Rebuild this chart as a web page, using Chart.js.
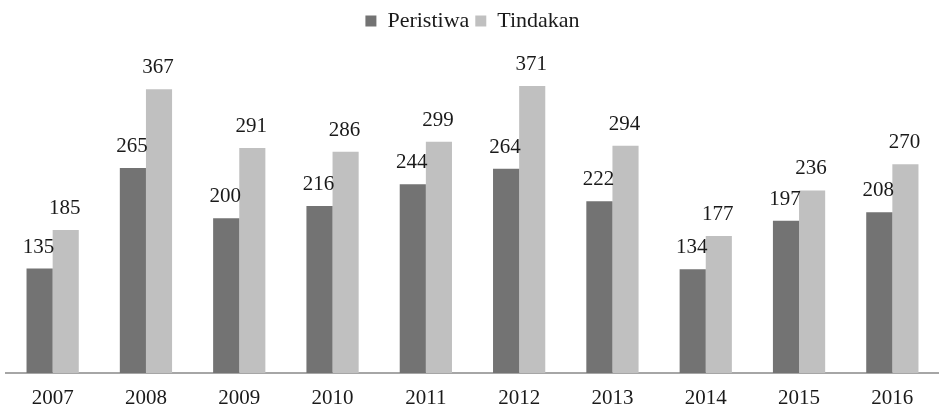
<!DOCTYPE html>
<html>
<head>
<meta charset="utf-8">
<script src="https://cdn.jsdelivr.net/npm/chart.js@4"></script>
<style>
  html, body { margin: 0; padding: 0; background: #fff; }
  #wrap { width: 939px; height: 412px; }
</style>
</head>
<body>
<div id="wrap"><canvas id="grafico" width="939" height="412"></canvas></div>
<script>
// Datos del gráfico
const tahun = ['2007', '2008', '2009', '2010', '2011', '2012', '2013', '2014', '2015', '2016'];
const peristiwa = [135, 265, 200, 216, 244, 264, 222, 134, 197, 208];
const tindakan = [185, 367, 291, 286, 299, 371, 294, 177, 236, 270];

const fuente = "'Liberation Serif', 'DejaVu Serif', serif";

// Etiquetas sobre las barras
const etiquetasBarras = {
    id: 'etiquetasBarras',
    afterDatasetsDraw(chart) {
        const ctx = chart.ctx;
        ctx.save();
        ctx.font = '21px ' + fuente;
        ctx.fillStyle = '#1a1a1a';
        ctx.textAlign = 'center';
        ctx.textBaseline = 'alphabetic';
        chart.data.datasets.forEach((ds, i) => {
            chart.getDatasetMeta(i).data.forEach((bar, j) => {
                ctx.fillText(ds.data[j], bar.x - 1, bar.y - 16);
            });
        });
        ctx.restore();
    }
};

new Chart(document.getElementById('grafico').getContext('2d'), {
    type: 'bar',
    data: {
        labels: tahun,
        datasets: [
            {
                label: 'Peristiwa',
                data: peristiwa,
                backgroundColor: '#737373',
                borderWidth: 0
            },
            {
                label: 'Tindakan',
                data: tindakan,
                backgroundColor: '#c0c0c0',
                borderWidth: 0
            }
        ]
    },
    options: {
        responsive: false,
        animation: false,
        layout: { padding: { left: 6, right: 0, top: 4, bottom: 0 } },
        datasets: {
            bar: { categoryPercentage: 0.56, barPercentage: 1 }
        },
        scales: {
            x: {
                grid: { display: false, drawTicks: false },
                border: { color: '#a6a6a6', width: 2 },
                ticks: {
                    color: '#1a1a1a',
                    font: { family: fuente, size: 21 },
                    padding: 13
                },
                afterFit(scale) {
                    scale.height = 39;
                }
            },
            y: {
                display: false,
                min: 0,
                max: 428
            }
        },
        plugins: {
            legend: {
                position: 'top',
                labels: {
                    color: '#1a1a1a',
                    font: { family: fuente, size: 22 },
                    boxWidth: 11,
                    boxHeight: 11,
                    padding: 6
                }
            },
            tooltip: { enabled: false }
        }
    },
    plugins: [etiquetasBarras]
});
</script>
</body>
</html>
